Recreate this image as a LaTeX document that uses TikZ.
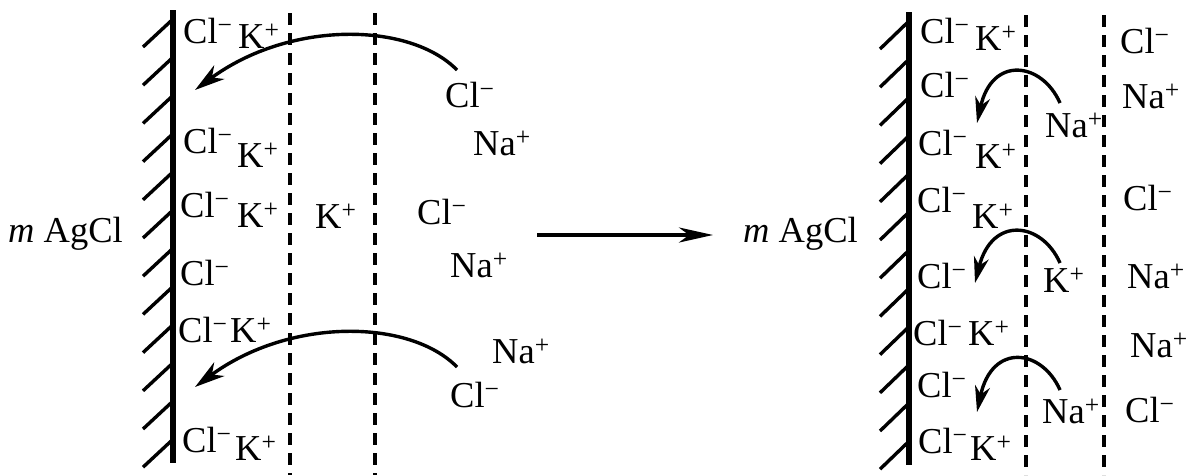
\documentclass[tikz,border=0pt]{standalone}
\usepackage{fontspec}
\setmainfont{Liberation Serif}
\usetikzlibrary{arrows.meta}
\newcommand{\ionsize}{\fontsize{36.5}{42}\selectfont}
\newcommand{\Clm}{Cl\textsuperscript{\char"2212}}
\newcommand{\Kp}{K\textsuperscript{+}}
\newcommand{\Nap}{Na\textsuperscript{+}}
\tikzset{
  ion/.style={anchor=base west, inner sep=0pt, font=\ionsize},
  wall/.style={line width=6pt},
  hatch/.style={line width=3.4pt},
  layer/.style={line width=3.4pt, dash pattern=on 12pt off 8pt},
  move/.style={line width=3.4pt, -{Stealth[length=30pt,width=17pt,inset=9pt]}},
  small move/.style={line width=3.4pt, -{Stealth[length=26pt,width=15pt,inset=8pt]}},
  react/.style={line width=3.4pt, -{Stealth[length=34pt,width=15pt,inset=10pt]}},
}
\begin{document}
\begin{tikzpicture}[x=1pt,y=-1pt]
\useasboundingbox (0,0) rectangle (1191,475);
% ---------- left panel ----------
\draw[wall] (173,10) -- (173,463);
\foreach \k in {0,...,11}{
  \draw[hatch] (143,{20+38.2*\k+27}) -- (172,{20+38.2*\k});
}
\draw[layer] (290,13) -- (290,475);
\draw[layer] (375,13) -- (375,475);
\node[ion] (lag) at (8,242) {\textit{m} AgCl};
\node[ion] (l1c) at (183,43) {\Clm};
\node[ion] (l1k) at (238,48) {\Kp};
\node[ion] (l2c) at (183,153) {\Clm};
\node[ion] (l2k) at (237,167) {\Kp};
\node[ion] (l3c) at (180,217) {\Clm};
\node[ion] (l3k) at (237,227) {\Kp};
\node[ion] (lmk) at (315,228) {\Kp};
\node[ion] (lcl1) at (445,107) {\Clm};
\node[ion] (lna1) at (473,155) {\Nap};
\node[ion] (lcl2) at (417,224) {\Clm};
\node[ion] (lna2) at (450,277) {\Nap};
\node[ion] (l4c) at (180,285) {\Clm};
\node[ion] (l5c) at (178,342) {\Clm};
\node[ion] (l5k) at (230,342) {\Kp};
\node[ion] (lna3) at (492,363) {\Nap};
\node[ion] (lcl3) at (450,407) {\Clm};
\node[ion] (l6c) at (182,452) {\Clm};
\node[ion] (l6k) at (235,460) {\Kp};
\coordinate (la1s) at (457,70);
\coordinate (la1e) at (195,90);
\coordinate (la2s) at (457,367);
\coordinate (la2e) at (195,387);
\draw[move] (la1s) .. controls (410,22) and (290,20) .. (la1e);
\draw[move] (la2s) .. controls (410,319) and (290,317) .. (la2e);
% ---------- reaction arrow ----------
\coordinate (rs) at (537,235);
\coordinate (re) at (713,235);
\draw[react] (rs) -- (re);
% ---------- right panel ----------
\draw[wall] (909,12) -- (909,465);
\foreach \k in {0,...,11}{
  \draw[hatch] (880,{22+38.2*\k+27}) -- (908,{22+38.2*\k});
}
\draw[layer] (1026,15) -- (1026,475);
\draw[layer] (1104,15) -- (1104,475);
\node[ion] (rag) at (743,242) {\textit{m} AgCl};
\node[ion] (r1c) at (920,43) {\Clm};
\node[ion] (r1k) at (975,50) {\Kp};
\node[ion] (r2c) at (920,97) {\Clm};
\node[ion] (rna1) at (1045,137) {\Nap};
\node[ion] (r3c) at (918,155) {\Clm};
\node[ion] (r3k) at (975,168) {\Kp};
\node[ion] (r4c) at (917,212) {\Clm};
\node[ion] (r4k) at (972,228) {\Kp};
\node[ion] (rcl1) at (1120,53) {\Clm};
\node[ion] (rna2) at (1122,108) {\Nap};
\node[ion] (rcl2) at (1123,210) {\Clm};
\node[ion] (r5c) at (917,288) {\Clm};
\node[ion] (rk) at (1043,292) {\Kp};
\node[ion] (rna3) at (1127,288) {\Nap};
\node[ion] (r6c) at (913,345) {\Clm};
\node[ion] (r6k) at (968,345) {\Kp};
\node[ion] (rna4) at (1130,357) {\Nap};
\node[ion] (r7c) at (917,397) {\Clm};
\node[ion] (rna5) at (1042,423) {\Nap};
\node[ion] (rcl3) at (1125,422) {\Clm};
\node[ion] (r8c) at (918,453) {\Clm};
\node[ion] (r8k) at (970,460) {\Kp};
\coordinate (ra1s) at (1060,103);
\coordinate (ra1e) at (977,123);
\coordinate (ra2s) at (1060,263);
\coordinate (ra2e) at (975,283);
\coordinate (ra3s) at (1060,390);
\coordinate (ra3e) at (977,412);
\draw[small move] (ra1s) .. controls (1042,62) and (992,55) .. (ra1e);
\draw[small move] (ra2s) .. controls (1042,222) and (992,215) .. (ra2e);
\draw[small move] (ra3s) .. controls (1042,349) and (992,342) .. (ra3e);
\end{tikzpicture}
\end{document}
